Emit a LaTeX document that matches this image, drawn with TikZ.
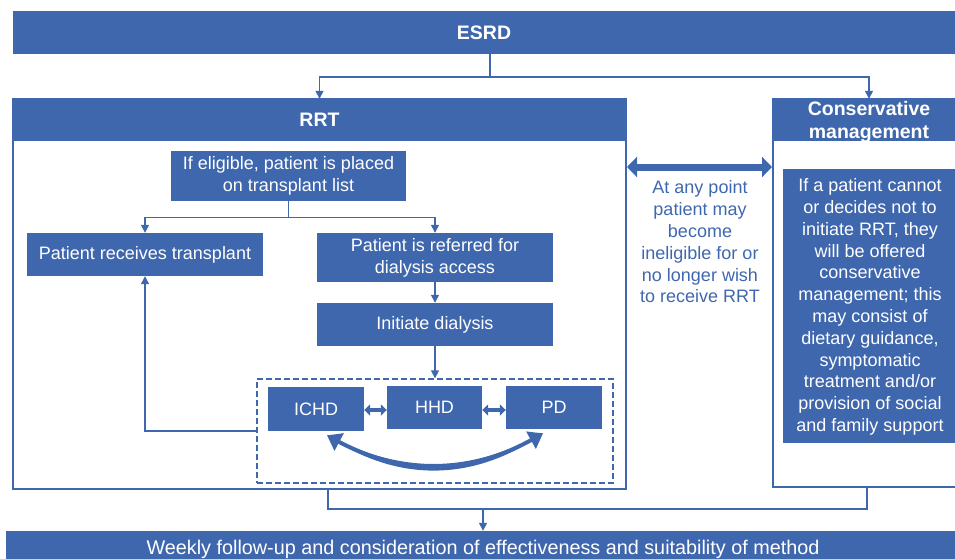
\documentclass[tikz,border=0pt]{standalone}
\usepackage{fontspec}
\setmainfont{Liberation Sans}
\usetikzlibrary{arrows.meta,calc,bending}
\definecolor{myblue}{RGB}{63,103,174}
\tikzset{
  box/.style={fill=myblue, text=white, font=\fontsize{18}{21.8}\selectfont, align=center, inner sep=0pt},
  hdr/.style={fill=myblue, text=white, font=\bfseries\fontsize{19.5}{23}\selectfont, align=center, inner sep=0pt},
  frame/.style={draw=myblue, line width=2pt, inner sep=0pt},
  line/.style={draw=myblue, line width=1.4pt},
  conn/.style={line, -{Triangle[length=8pt,width=8pt]}},
  bigarrow/.style={draw=myblue, line width=7pt, {Triangle[length=10pt,width=20pt]}-{Triangle[length=10pt,width=20pt]}},
  smallarrow/.style={draw=myblue, line width=4pt, {Triangle[length=6pt,width=11pt]}-{Triangle[length=6pt,width=11pt]}},
  curvearrow/.style={draw=myblue, line width=4pt, {Triangle[length=14pt,width=19pt,bend]}-{Triangle[length=14pt,width=19pt,bend]}},
}
\begin{document}
\begin{tikzpicture}[x=1pt,y=-1pt]
\useasboundingbox (0,0) rectangle (955,559);
% top bar
\node[hdr, minimum width=942pt, minimum height=43pt] (esrd) at (484,32.5) {ESRD};
% RRT frame
\node[frame, minimum width=613pt, minimum height=390pt] (rrtframe) at (319.5,294) {};
\node[hdr, minimum width=613pt, minimum height=42pt] (rrthdr) at (319.5,120) {RRT};
% Conservative frame
\node[frame, minimum width=192pt, minimum height=388pt] (consframe) at (869,293) {};
\node[hdr, minimum width=192pt, minimum height=42pt] (conshdr) at (869,120) {};
\node[hdr, fill=none] (conshdrtext) at (869,122.5) {Conservative\\management};
\node[box, minimum width=182pt, minimum height=274pt, anchor=west] (consbox) at (783,306) {};
\node[box, fill=none] (constext) at (870,307) {If a patient cannot\\or decides not to\\initiate RRT, they\\will be offered\\conservative\\management; this\\may consist of\\dietary guidance,\\symptomatic\\treatment and/or\\provision of social\\and family support};
% middle text
\node[align=center, text=myblue, font=\fontsize{18}{21.8}\selectfont, inner sep=0pt] (midtext) at (700,242) {At any point\\patient may\\become\\ineligible for or\\no longer wish\\to receive RRT};
% RRT contents
\node[box, minimum width=235pt, minimum height=50pt] (elig) at (288.5,176) {If eligible, patient is placed\\on transplant list};
\node[box, minimum width=236pt, minimum height=43pt] (transplant) at (145,254.5) {Patient receives transplant};
\node[box, minimum width=236pt, minimum height=49pt] (referred) at (435,257.5) {Patient is referred for\\dialysis access};
\node[box, minimum width=236pt, minimum height=43pt] (initiate) at (435,324.5) {Initiate dialysis};
\node[draw=myblue, line width=1.3pt, dash pattern=on 6pt off 3pt, minimum width=356pt, minimum height=104pt, inner sep=0pt] (dashed) at (435,431) {};
\node[box, minimum width=96pt, minimum height=44pt] (ichd) at (316,409) {ICHD};
\node[box, minimum width=95pt, minimum height=43pt] (hhd) at (434.5,407.5) {HHD};
\node[box, minimum width=96pt, minimum height=43pt] (pd) at (554,407.5) {PD};
% bottom bar
\node[box, font=\fontsize{19.8}{23}\selectfont, minimum width=954pt, minimum height=36pt] (bottombar) at (483,549) {Weekly follow-up and consideration of effectiveness and suitability of method};
% connectors
\draw[conn] ([xshift=6pt]esrd.south) -- ++(0,23) -| (rrthdr.north);
\draw[conn] ([xshift=6pt]esrd.south) -- ++(0,23) -| (conshdr.north);
\draw[conn] (elig.south) -- ++(0,16) -| (transplant.north);
\draw[conn] (elig.south) -- ++(0,16) -| (referred.north);
\draw[conn] (referred.south) -- (initiate.north);
\draw[conn] (initiate.south) -- (dashed.north);
\draw[conn] (dashed.west) -| (transplant.south);
\draw[bigarrow] (rrtframe.east |- 0,167) -- (consframe.west |- 0,167);
\draw[smallarrow] (ichd.east |- 0,410) -- (hhd.west |- 0,410);
\draw[smallarrow] (hhd.east |- 0,410) -- (pd.west |- 0,410);
\coordinate (cA) at ($(ichd.south)+(11,4)$);
\coordinate (cB) at ($(pd.south)+(-11,4)$);
\fill[myblue] (cA) to[bend right=28] (cB) to[bend left=35] (cA);
\draw[curvearrow] (cA) to[bend right=31] (cB);
\coordinate (mL) at ($(rrtframe.south)+(8.5,19)$);
\draw[line] ($(rrtframe.south)+(8.5,0)$) -- (mL) -| ($(consframe.south)+(-2,0)$);
\draw[conn] (mL -| bottombar.north) -- (bottombar.north);
\end{tikzpicture}
\end{document}
